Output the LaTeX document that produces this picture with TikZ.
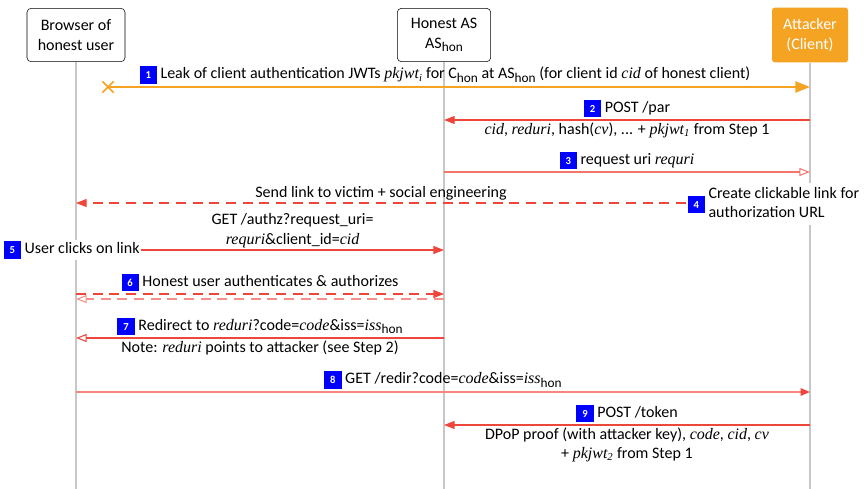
\documentclass[tikz,border=0pt]{standalone}
\usepackage{fontspec}
\setmainfont{Carlito}
\newfontfamily\varfont{Liberation Serif}
\usepackage{amsmath}
\usetikzlibrary{arrows.meta,positioning,shapes.misc}

\definecolor{attackorange}{RGB}{245,163,35}
\definecolor{msgred}{RGB}{238,70,58}
\newcommand{\stepbadge}[1]{{\setlength{\fboxsep}{1.5pt}\colorbox{blue}{\makebox[10pt]{\rule[-2.6pt]{0pt}{10.4pt}\color{white}\fontsize{8}{9}\selectfont\bfseries #1}}}}
\newcommand{\hon}{\raisebox{-0.45ex}{\fontsize{10}{10}\selectfont hon}}
\newcommand{\vr}[1]{{\varfont\itshape #1}}

\begin{document}
\begin{tikzpicture}[x=0.75pt,y=-0.75pt,font=\fontsize{12}{14.4}\selectfont,
    actor_box/.style={draw,rounded corners=3pt,align=center,minimum height=40pt,inner sep=2pt},
    attacker_box/.style={fill=attackorange,text=white,rounded corners=2pt,align=center,minimum height=41pt,minimum width=57pt,inner sep=2pt},
    lifeline/.style={draw=black!22,line width=0.8pt},
    leak_msg/.style={draw=attackorange,line width=1.1pt,-{Triangle[length=11pt,width=8.5pt,fill=attackorange]}},
    msg/.style={draw=msgred,line width=0.8pt,-{Triangle[length=8pt,width=6pt]}},
    msg_open/.style={msg,-{Triangle[open,length=8pt,width=6pt]}},
    msg_dash/.style={dash pattern=on 7.5pt off 5pt},
    lbl/.style={inner sep=1.5pt,align=center},
    note_box/.style={fill=white,inner sep=1pt,anchor=west}]

    \useasboundingbox (0,0) rectangle (864,489);

    % participants
    \node[actor_box,minimum width=73.5pt] (browser) at (76,35) {Browser of\\honest user};
    \node[actor_box,minimum width=70pt] (as) at (444,35) {Honest AS\\AS\hon};
    \node[attacker_box] (attacker) at (810,35) {Attacker\\(Client)};

    \coordinate (browser_end) at (76,489);
    \coordinate (as_end) at (444,489);
    \coordinate (attacker_end) at (810,489);
    \path[lifeline] (browser) -- (browser_end);
    \path[lifeline] (as) -- (as_end);
    \path[lifeline] (attacker) -- (attacker_end);

    % step 1
    \coordinate (leak_x) at (108,87);
    \coordinate (m1_end) at (810,87);
    \path (leak_x) edge[leak_msg] node[lbl,above,pos=0.48] {\stepbadge{1} Leak of client authentication JWTs \vr{pkjwt\textsubscript{i}} for C\hon{} at AS\hon{} (for client id \vr{cid} of honest client)} (m1_end);
    \node[draw=attackorange,cross out,line width=1.1pt,minimum size=7.5pt,inner sep=0pt] (leak_mark) at (leak_x) {};

    % step 2
    \coordinate (m2_s) at (810,120);
    \coordinate (m2_e) at (444,120);
    \path (m2_s) edge[msg] node[lbl,above] {\stepbadge{2} POST /par}
        node[lbl,below] {\vr{cid}, \vr{reduri}, hash(\vr{cv}), ... + \vr{pkjwt\textsubscript{1}} from Step 1} (m2_e);

    % step 3
    \coordinate (m3_s) at (444,172);
    \coordinate (m3_e) at (810,172);
    \path (m3_s) edge[msg_open,draw=msgred!75] node[lbl,above] {\stepbadge{3} request uri \vr{requri}} (m3_e);

    % step 4
    \node[note_box] (link_note) at (686,204) {\stepbadge{4}~\begin{tabular}[c]{@{}l@{}}Create clickable link for\\authorization URL\end{tabular}};
    \coordinate (m4_e) at (76,203);
    \path (link_note.west |- m4_e) edge[msg,msg_dash] node[lbl,above] {Send link to victim + social engineering} (m4_e);

    % step 5
    \node[note_box] (click_note) at (2,250) {\stepbadge{5} User clicks on link};
    \coordinate (m5_e) at (444,250);
    \path (click_note.east) edge[msg] node[lbl,above] {GET /authz?request\_uri=\\\vr{requri}\&client\_id=\vr{cid}} (m5_e);

    % step 6
    \coordinate (m6_a) at (76,294);
    \coordinate (m6_b) at (444,294);
    \coordinate (m6_c) at (444,299);
    \coordinate (m6_d) at (76,299);
    \path (m6_a) edge[msg,msg_dash] node[lbl,above] {\stepbadge{6} Honest user authenticates \& authorizes} (m6_b);
    \path (m6_c) edge[msg_open,msg_dash,draw=msgred!60] (m6_d);

    % step 7
    \coordinate (m7_s) at (444,338);
    \coordinate (m7_e) at (76,338);
    \path (m7_s) edge[msg_open] node[lbl,above] {\stepbadge{7} Redirect to \vr{reduri}?code=\vr{code}\&iss=\vr{iss}\hon}
        node[lbl,below] {Note: \vr{reduri} points to attacker (see Step 2)} (m7_e);

    % step 8
    \coordinate (m8_s) at (76,392);
    \coordinate (m8_e) at (810,392);
    \path (m8_s) edge[msg,draw=msgred!65,line width=1.3pt,-{Triangle[length=7pt,width=5.5pt,color=msgred,fill=msgred]}] node[lbl,above] {\stepbadge{8} GET /redir?code=\vr{code}\&iss=\vr{iss}\hon} (m8_e);

    % step 9
    \coordinate (m9_s) at (810,425);
    \coordinate (m9_e) at (444,425);
    \path (m9_s) edge[msg] node[lbl,above] {\stepbadge{9} POST /token}
        node[lbl,below] {DPoP proof (with attacker key), \vr{code}, \vr{cid}, \vr{cv}\\+ \vr{pkjwt\textsubscript{2}} from Step 1} (m9_e);
\end{tikzpicture}
\end{document}
